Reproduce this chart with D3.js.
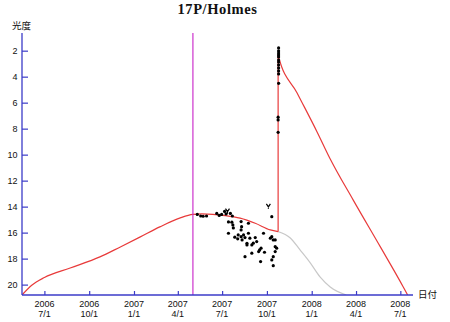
<!DOCTYPE html>
<html>
<head>
<meta charset="utf-8">
<script src="https://cdn.jsdelivr.net/npm/d3@7/dist/d3.min.js"></script>
<style>
  html, body { margin: 0; padding: 0; background: #fff; }
  svg { display: block; }
  text { font-family: "Liberation Sans", Arial, sans-serif; fill: #111; }
</style>
</head>
<body>
<svg id="chart" width="450" height="322"></svg>
<script>
// Predicted magnitude before the outburst (red)
const predBefore = [
  ["2006-05-16", 20.8], ["2006-06-05", 20.05], ["2006-07-01", 19.45],
  ["2006-08-23", 18.72], ["2006-10-23", 17.87], ["2006-12-04", 17.10],
  ["2007-01-14", 16.33], ["2007-02-23", 15.56], ["2007-04-06", 14.87],
  ["2007-05-02", 14.60], ["2007-05-20", 14.56], ["2007-07-07", 14.69],
  ["2007-08-07", 14.89], ["2007-09-07", 15.28], ["2007-10-08", 15.79],
  ["2007-10-24", 15.92]
];
// Continuation of the pre-outburst prediction (grey)
const predNoOutburst = [
  ["2007-10-24", 15.92], ["2007-11-18", 16.41], ["2007-12-08", 17.33],
  ["2007-12-29", 18.33], ["2008-01-18", 19.41], ["2008-02-08", 20.18],
  ["2008-03-12", 20.8]
];
// Outburst jump and the fading afterwards (red)
const outburstJump = [["2007-10-24", 15.92], ["2007-10-24", 2.3]];
const predAfter = [
  ["2007-10-24", 2.3], ["2007-10-25", 2.45], ["2007-12-02", 5.25],
  ["2008-01-12", 8.25], ["2008-02-08", 10.33], ["2008-03-26", 13.48],
  ["2008-05-21", 17.1], ["2008-07-07", 20.18], ["2008-07-16", 20.8]
];
// Perihelion date
const perihelion = "2007-05-02";
// Observed magnitudes
const obsDates = [
  "2007-05-11","2007-05-18","2007-05-23","2007-05-30","2007-06-20","2007-06-25",
  "2007-06-30","2007-07-06","2007-07-09","2007-07-18","2007-07-22","2007-07-14",
  "2007-07-21","2007-07-23","2007-07-24","2007-08-09","2007-08-10","2007-08-09",
  "2007-08-24","2007-07-14","2007-08-03","2007-08-09","2007-08-14","2007-08-17",
  "2007-08-11","2007-08-02","2007-08-24","2007-08-27","2007-09-07","2007-09-10",
  "2007-08-31","2007-08-21","2007-09-24","2007-10-11","2007-10-08","2007-10-11",
  "2007-10-14","2007-10-18","2007-10-18","2007-10-21","2007-10-18","2007-10-14",
  "2007-10-11","2007-09-19","2007-09-14","2007-09-26","2007-08-31","2007-08-17",
  "2007-09-18","2007-10-14","2007-07-27","2007-09-03","2007-09-16","2007-08-21",
  "2007-10-25","2007-10-25","2007-10-25","2007-10-25","2007-10-25","2007-10-25",
  "2007-10-25","2007-10-25","2007-10-25","2007-10-25","2007-10-25","2007-10-25",
  "2007-10-24","2007-10-24","2007-10-24"
];
const obsMags = [
  14.60,14.72,14.74,14.72,14.52,14.68,
  14.60,14.37,14.56,14.52,14.72,15.18,
  15.20,15.41,15.64,15.15,15.54,15.79,
  15.28,16.05,16.18,16.31,16.18,16.38,
  16.56,16.48,16.05,16.43,16.38,16.69,
  16.95,16.95,16.05,14.77,16.43,16.31,
  16.56,16.56,17.08,17.20,17.46,17.85,
  18.10,17.20,17.46,17.51,17.58,17.85,
  18.23,18.54,16.35,16.81,17.33,16.82,
  1.79,2.02,2.18,2.33,2.48,2.72,
  2.87,3.10,3.33,3.56,3.79,4.51,
  7.12,7.33,8.28
];
// Upper-limit estimates
const limitDates = ["2007-07-12", "2007-10-04"];
const limitMags = [14.35, 13.98];

// Axis ticks
const yTicks = [2, 4, 6, 8, 10, 12, 14, 16, 18, 20];
const xTickDates = ["2006-07-01","2006-10-01","2007-01-01","2007-04-01","2007-07-01",
                    "2007-10-01","2008-01-01","2008-04-01","2008-07-01"];
const xTickYears = ["2006","2006","2007","2007","2007","2007","2008","2008","2008"];
const xTickDays  = ["7/1","10/1","1/1","4/1","7/1","10/1","1/1","4/1","7/1"];

const parse = d3.utcParse("%Y-%m-%d");
const svg = d3.select("#chart");

const x = d3.scaleUtc()
  .domain([parse("2006-05-16"), parse("2008-07-27")])
  .range([22, 413]);
const y = d3.scaleLinear()
  .domain([0.64, 20.8])
  .range([33, 295]);

const AXIS = "#3b3bc8";
const RED = "#e83a3a";

svg.append("defs").append("clipPath").attr("id", "plot")
  .append("rect").attr("x", 22).attr("y", 30).attr("width", 395).attr("height", 265);

const plot = svg.append("g").attr("clip-path", "url(#plot)");

const line = d3.line()
  .x(d => x(parse(d[0])))
  .y(d => y(d[1]));

plot.append("path").datum(predNoOutburst)
  .attr("d", line.curve(d3.curveMonotoneX))
  .attr("fill", "none").attr("stroke", "#c8c8c8").attr("stroke-width", 1.2);
plot.append("path").datum(predBefore)
  .attr("d", line.curve(d3.curveMonotoneX))
  .attr("fill", "none").attr("stroke", RED).attr("stroke-width", 1.2);
plot.append("path").datum(outburstJump)
  .attr("d", line.curve(d3.curveLinear))
  .attr("fill", "none").attr("stroke", RED).attr("stroke-width", 1.2);
plot.append("path").datum(predAfter)
  .attr("d", line.curve(d3.curveMonotoneX))
  .attr("fill", "none").attr("stroke", RED).attr("stroke-width", 1.2);

// perihelion marker
plot.append("line")
  .attr("x1", x(parse(perihelion))).attr("x2", x(parse(perihelion)))
  .attr("y1", y.range()[0]).attr("y2", y.range()[1])
  .attr("stroke", "#cc33cc").attr("stroke-width", 1.2);

// observations
plot.append("g").selectAll("circle")
  .data(obsDates.map((d, i) => [d, obsMags[i]]))
  .join("circle")
  .attr("cx", d => x(parse(d[0])))
  .attr("cy", d => y(d[1]))
  .attr("r", 1.6)
  .attr("fill", "#000");

plot.append("g").selectAll("path")
  .data(limitDates.map((d, i) => [d, limitMags[i]]))
  .join("path")
  .attr("transform", d => `translate(${x(parse(d[0]))},${y(d[1])})`)
  .attr("d", "M-2,-2.5L0,0.5L2,-2.5M0,0.5L0,2.5")
  .attr("fill", "none").attr("stroke", "#000").attr("stroke-width", 1.2);

// axes
const yAxis = d3.axisLeft(y).tickValues(yTicks).tickSize(-6).tickPadding(4);
const gy = svg.append("g").attr("transform", "translate(22,0)").call(yAxis);
gy.select(".domain").attr("stroke", AXIS).attr("stroke-width", 1.3)
  .attr("d", `M0,${y.range()[0]}V${y.range()[1]}`);
gy.selectAll(".tick line").attr("stroke", AXIS).attr("stroke-width", 1.2);
gy.selectAll(".tick text").attr("x", -4.5).attr("font-size", 9)
  .attr("font-family", "Liberation Sans, Arial, sans-serif").attr("fill", "#111");

const xAxis = d3.axisBottom(x).tickValues(xTickDates.map(parse)).tickSize(-4).tickFormat("");
const gx = svg.append("g").attr("transform", "translate(0,295)").call(xAxis);
gx.select(".domain").attr("stroke", AXIS).attr("stroke-width", 1.3)
  .attr("d", `M${x.range()[0]},0H${x.range()[1]}`);
gx.selectAll(".tick line").attr("stroke", AXIS).attr("stroke-width", 1.2);

const tl = svg.append("g").attr("font-size", 9).attr("text-anchor", "middle");
xTickDates.forEach((d, i) => {
  const px = x(parse(d));
  tl.append("text").attr("x", px).attr("y", 307).text(xTickYears[i]);
  tl.append("text").attr("x", px).attr("y", 317).text(xTickDays[i]);
});

// titles
svg.append("text")
  .attr("x", 217.5).attr("y", 13.5)
  .attr("text-anchor", "middle")
  .style("font-family", "'Liberation Serif', 'Times New Roman', serif")
  .style("font-weight", "bold")
  .style("font-size", "14.5px")
  .style("letter-spacing", "0.6px")
  .text("17P/Holmes");

svg.append("text")
  .attr("x", 12).attr("y", 28.5)
  .style("font-family", "'Noto Sans CJK JP', sans-serif")
  .style("font-size", "9.5px")
  .text("光度");

svg.append("text")
  .attr("x", 418).attr("y", 298)
  .style("font-family", "'Noto Sans CJK JP', sans-serif")
  .style("font-size", "9.5px")
  .text("日付");
</script>
</body>
</html>
